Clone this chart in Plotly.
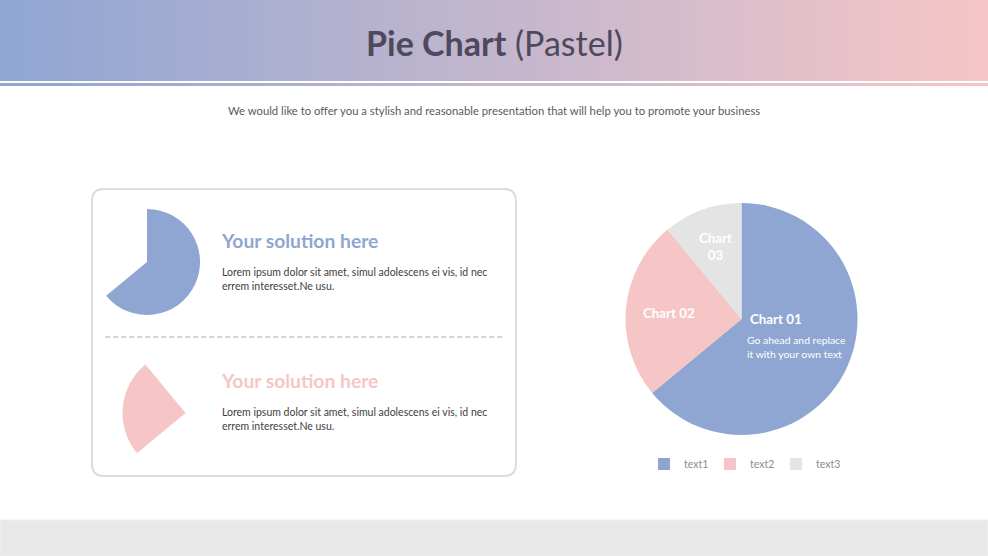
import plotly.graph_objects as go

W, H = 988, 556

# ---- data ----
categories = ["text1", "text2", "text3"]
values = [64, 25, 11]
slice_labels = ["Chart 01", "Chart 02", "Chart 03"]
colors = ["#8fa6d2", "#f6c6c6", "#e4e4e4"]
title_bold = "Pie Chart"
title_rest = "(Pastel)"
subtitle = "We would like to offer you a stylish and reasonable presentation that will help you to promote your business"
heading = "Your solution here"
body = "Lorem ipsum dolor sit amet, simul adolescens ei vis, id nec<br>errem interesset.Ne usu."
desc = "Go ahead and replace<br>it with your own text"


def px(x):
    return x / W


def py(y):
    return 1 - y / H


def dom(cx, cy, r):
    return dict(x=[px(cx - r), px(cx + r)], y=[py(cy + r), py(cy - r)])


fig = go.Figure()

# main pie
fig.add_trace(go.Pie(
    labels=categories, values=values, sort=False, direction="clockwise",
    rotation=0, marker=dict(colors=colors, line=dict(width=0)),
    textinfo="none", hoverinfo="label+percent", domain=dom(741.5, 319, 116),
    showlegend=True,
))

# small left pies: single slice highlighted
clear = "rgba(0,0,0,0)"
fig.add_trace(go.Pie(
    labels=categories, values=values, sort=False, direction="clockwise",
    marker=dict(colors=[colors[0], clear, clear], line=dict(width=0)),
    textinfo="none", hoverinfo="skip", domain=dom(147, 262, 53), showlegend=False,
))
fig.add_trace(go.Pie(
    labels=categories, values=values, sort=False, direction="clockwise",
    marker=dict(colors=[clear, colors[1], clear], line=dict(width=0)),
    textinfo="none", hoverinfo="skip", domain=dom(185.5, 413, 63), showlegend=False,
))

shapes = []
# gradient header
c1 = (143, 166, 211)
c2 = (246, 198, 199)
N = 124
for i in range(N):
    t = i / (N - 1)
    col = "rgb(%d,%d,%d)" % tuple(round(a + (b - a) * t) for a, b in zip(c1, c2))
    x0 = W * i / N
    x1 = min(W * (i + 1) / N + 3, W)
    shapes.append(dict(type="rect", xref="paper", yref="paper", x0=px(x0), x1=px(x1),
                       y0=py(81), y1=py(0), fillcolor=col, line=dict(width=0), layer="below"))
    shapes.append(dict(type="rect", xref="paper", yref="paper", x0=px(x0), x1=px(x1),
                       y0=py(86), y1=py(83), fillcolor=col, line=dict(width=0), layer="below"))

# footer
shapes.append(dict(type="rect", xref="paper", yref="paper", x0=0, x1=1, y0=0, y1=py(520),
                   fillcolor="#e8e8e8", line=dict(color="#f0f0f0", width=1), layer="below"))

# rounded box
x0, x1, y0, y1, r = 92, 516, 189, 476, 12
def P(x, y):
    return "%.5f,%.5f" % (px(x), py(y))
path = ("M " + P(x0 + r, y0) + " L " + P(x1 - r, y0) + " Q " + P(x1, y0) + " " + P(x1, y0 + r) +
        " L " + P(x1, y1 - r) + " Q " + P(x1, y1) + " " + P(x1 - r, y1) +
        " L " + P(x0 + r, y1) + " Q " + P(x0, y1) + " " + P(x0, y1 - r) +
        " L " + P(x0, y0 + r) + " Q " + P(x0, y0) + " " + P(x0 + r, y0) + " Z")
shapes.append(dict(type="path", xref="paper", yref="paper", path=path, fillcolor="white",
                   line=dict(color="#dcdcdc", width=2), layer="below"))
# dashed divider
shapes.append(dict(type="line", xref="paper", yref="paper", x0=px(105), x1=px(502), y0=py(337), y1=py(337),
                   line=dict(color="#c8c8c8", width=1.5, dash="5px,3px")))

FONT = "Lato"
ann = []
def A(x, y, text, size, color, xanchor="left", align="left"):
    ann.append(dict(x=px(x), y=py(y), xref="paper", yref="paper", text=text, showarrow=False,
                    xanchor=xanchor, yanchor="middle", align=align,
                    font=dict(family=FONT, size=size, color=color)))

A(494, 43, "<b>%s</b> %s" % (title_bold, title_rest), 34, "#4e495c", xanchor="center", align="center")
A(494, 110, subtitle, 11.3, "#5a5a5a", xanchor="center", align="center")

A(219, 240, "<b>%s</b>" % heading, 19.3, colors[0])
A(220, 279, body, 10.5, "#404040")
A(219, 380, "<b>%s</b>" % heading, 19.3, colors[1])
A(220, 419, body, 10.5, "#404040")

A(748, 319, "<b>%s</b>" % slice_labels[0], 13.3, "white")
A(745, 347, desc, 10.4, "white")
A(669, 313, "<b>%s</b>" % slice_labels[1], 13.3, "white", xanchor="center", align="center")
A(715, 246, "<b>%s<br>%s</b>" % tuple(slice_labels[2].split(" ")), 13.3, "white", xanchor="center", align="center")

fig.update_layout(
    width=W, height=H, margin=dict(l=0, r=0, t=0, b=0),
    paper_bgcolor="white", plot_bgcolor="white",
    shapes=shapes, annotations=ann,
    legend=dict(orientation="h", x=px(644), y=py(464), xanchor="left", yanchor="middle",
                font=dict(family=FONT, size=10.5, color="#8c8c8c"), entrywidth=21,
                itemwidth=30, bgcolor="rgba(0,0,0,0)"),
)

fig.write_html("out.html")
